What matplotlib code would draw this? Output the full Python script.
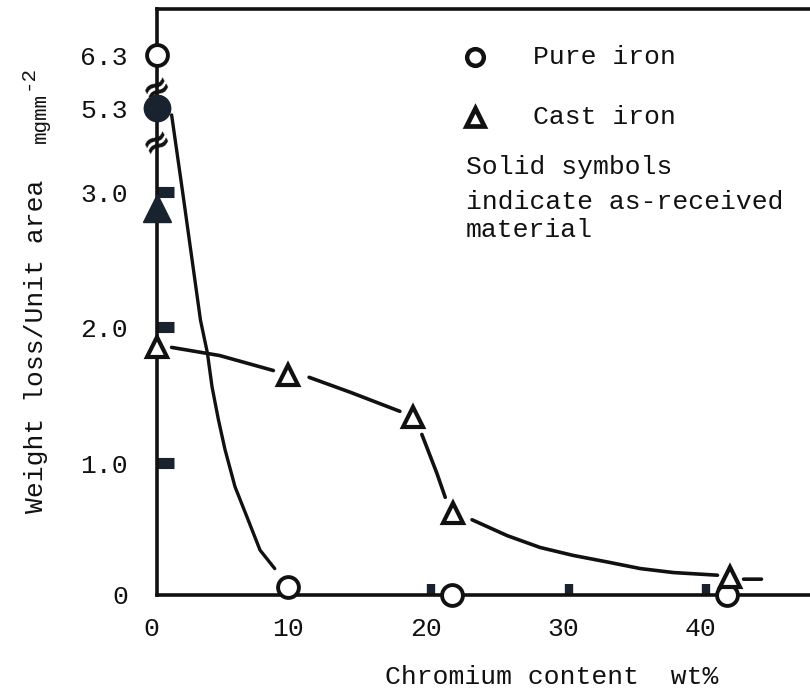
import numpy as np
import matplotlib.pyplot as plt

plt.rcParams['font.family'] = ['Liberation Mono', 'DejaVu Sans Mono']

# measured points (x = Cr wt%, y = weight loss mg/mm^2)
# open symbols = annealed, solid = as-received
PURE_X = [0.45, 10.0, 21.9, 41.9]
PURE_Y = [6.3, 0.06, 0.0, 0.0]
PURE_SOLID_X = [0.45]
PURE_SOLID_Y = [5.3]
CAST_X = [0.45, 9.96, 19.05, 22.0, 42.1]
CAST_Y = [1.85, 1.65, 1.34, 0.62, 0.14]
CAST_SOLID_X = [0.45]
CAST_SOLID_Y = [2.88]

# hand drawn trend lines (gaps where the curve stops short of a symbol)
PURE_CURVE_X = [1.5, 2.3, 3.6, 4.1, 4.44, 4.9, 5.38, 6.11, 6.91, 7.93, 9.0]
PURE_CURVE_Y = [5.11, 3.0, 2.05, 1.81, 1.56, 1.32, 1.10, 0.82, 0.61, 0.34, 0.20]
nan = np.nan
CAST_CURVE_X = [1.5, 5.0, 8.9, nan,
                11.5, 14.5, 18.1, nan,
                19.7, 20.8, 21.4, nan,
                23.35, 25.9, 28.3, 30.7, 33.2, 35.6, 38.0, 41.2, nan,
                43.1, 44.4]
CAST_CURVE_Y = [1.85, 1.79, 1.68, nan,
                1.63, 1.52, 1.38, nan,
                1.21, 0.92, 0.74, nan,
                0.57, 0.45, 0.36, 0.30, 0.25, 0.20, 0.17, 0.15, nan,
                0.12, 0.12]

X_TICKS = [0, 10, 20, 30, 40]
Y_TICKS = [0, 1, 2, 3, 5.3, 6.3]
Y_TICK_LABELS = ['0', '1.0', '2.0', '3.0', '5.3', '6.3']

INK = '#111111'
SOLID = '#18232f'

# broken y axis: linear up to 3.0, then compressed
Y_KNOT_DATA = [-5, 0, 1, 2, 3, 5.3, 6.3, 20]
Y_KNOT_POS = [-660, 0, 132, 268, 403, 487, 540, 540 + 13.7 * 53]


def fwd(y):
    return np.interp(y, Y_KNOT_DATA, Y_KNOT_POS)


def inv(v):
    return np.interp(v, Y_KNOT_POS, Y_KNOT_DATA)


X_MAX = 47.93
fig = plt.figure(figsize=(8.1, 6.98), dpi=100)
ax = fig.add_axes([151 / 810, 103 / 698, 659 / 810, 586 / 698])
ax.set_yscale('function', functions=(fwd, inv))
ax.set_xlim(0, X_MAX)
ax.set_ylim(0, 7.168)

ax.plot(PURE_CURVE_X, PURE_CURVE_Y, color=INK, lw=2.4, solid_capstyle='round',
        solid_joinstyle='round')
ax.plot(CAST_CURVE_X, CAST_CURVE_Y, color=INK, lw=2.6, solid_capstyle='round',
        solid_joinstyle='round')

ax.plot(PURE_X, PURE_Y, 'o', ms=15, mfc='white', mec=INK, mew=2.8, clip_on=False, zorder=5)
ax.plot(CAST_X, CAST_Y, '^', ms=15, mfc='white', mec=INK, mew=3.0, clip_on=False, zorder=5)
ax.plot(PURE_SOLID_X, PURE_SOLID_Y, 'o', ms=19, color=SOLID, clip_on=False, zorder=6)
ax.plot(CAST_SOLID_X, CAST_SOLID_Y, '^', ms=20, color=SOLID, clip_on=False, zorder=6)

# axes frame
for s in ['left', 'bottom', 'top']:
    ax.spines[s].set_linewidth(2.6)
    ax.spines[s].set_color(INK)
ax.spines['right'].set_visible(False)
ax.spines['left'].set_position(('data', 0.45))
ax.spines['bottom'].set_bounds(0.45, X_MAX)
ax.spines['top'].set_bounds(0.45, X_MAX)

ax.set_xticks(X_TICKS, [str(t) for t in X_TICKS])
ax.set_yticks(Y_TICKS, Y_TICK_LABELS)
ax.tick_params(axis='y', which='major', length=0, pad=21, labelsize=19, labelcolor=INK)
ax.tick_params(axis='x', which='major', length=0, pad=16, labelsize=19, labelcolor=INK)
ax.yaxis.remove_overlapping_locs = False
ax.set_yticks([1, 2, 3], minor=True)
ax.set_xticks([20.4, 30.4, 40.4], minor=True)
ax.tick_params(axis='y', which='minor', direction='in', length=12, width=8,
               color=SOLID, labelleft=False)
ax.tick_params(axis='x', which='minor', direction='in', length=8, width=6,
               color=SOLID, labelbottom=False)

# break marks on the y axis
for yb in [5.68, 4.37]:
    ax.text(0.45, yb, '≈', family='DejaVu Sans', fontsize=25, fontweight='bold',
            rotation=30, ha='center', va='center', color=INK, clip_on=False, zorder=4)

# key
ax.plot([0.4917], [0.918], 'o', ms=12, mfc='white', mec=INK, mew=3.2, transform=ax.transAxes)
ax.plot([0.4917], [0.816], '^', ms=13, mfc='white', mec=INK, mew=3.4, transform=ax.transAxes)
ax.text(0.5797, 0.918, 'Pure iron', fontsize=19, va='center', color=INK, transform=ax.transAxes)
ax.text(0.5797, 0.816, 'Cast iron', fontsize=19, va='center', color=INK, transform=ax.transAxes)
ax.text(0.478, 0.730, 'Solid symbols', fontsize=19, va='center', color=INK, transform=ax.transAxes)
ax.text(0.478, 0.671, 'indicate as-received', fontsize=19, va='center', color=INK, transform=ax.transAxes)
ax.text(0.478, 0.623, 'material', fontsize=19, va='center', color=INK, transform=ax.transAxes)

# axis titles
fig.text(552 / 810, 1 - 677 / 698, 'Chromium content  wt%', fontsize=19,
         ha='center', va='center', color=INK)
fig.text(36 / 810, 1 - 346 / 698, 'Weight loss/Unit area', fontsize=19,
         rotation=90, ha='center', va='center', color=INK)
fig.text(40 / 810, 1 - 118 / 698, 'mgmm', fontsize=15,
         rotation=90, ha='center', va='center', color=INK)
fig.text(27 / 810, 1 - 78 / 698, '-2', fontsize=15,
         rotation=90, ha='center', va='center', color=INK)

fig.savefig('out.png', dpi=100)
